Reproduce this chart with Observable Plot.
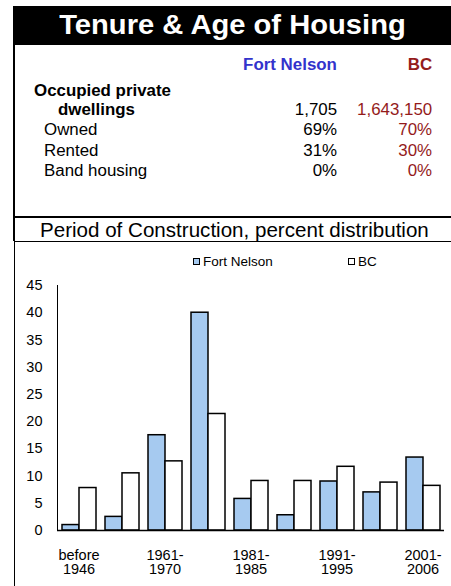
<!DOCTYPE html>
<html>
<head>
<meta charset="utf-8">
<script src="https://cdn.jsdelivr.net/npm/d3@7"></script>
<script src="https://cdn.jsdelivr.net/npm/@observablehq/plot@0.6"></script>
<style>
  body { margin: 0; background: white; }
  #root { position: relative; width: 451px; height: 586px; overflow: hidden; background: white;
          font-family: "Liberation Sans", Arial, sans-serif; color: black; }
  .abs { position: absolute; white-space: nowrap; }
  .l { transform: scaleX(1.055); transform-origin: left center; }
  .r { transform: scaleX(1.055); transform-origin: right center; }
  .c { transform: scaleX(1.06); transform-origin: center center; }
  .line { position: absolute; background: black; }
</style>
</head>
<body>
<div id="root"></div>
<script>
// ---- data ----
const titleText = "Tenure & Age of Housing";
const subtitleText = "Period of Construction, percent distribution";
const places = ["Fort Nelson", "BC"];
const rowLabels = ["Occupied private\ndwellings", "Owned", "Rented", "Band housing"];
const fortNelsonTable = ["1,705", "69%", "31%", "0%"];
const bcTable = ["1,643,150", "70%", "30%", "0%"];

const periods = ["before 1946", "1946-1960", "1961-1970", "1971-1980", "1981-1985",
                 "1986-1990", "1991-1995", "1996-2000", "2001-2006"];
const tickLabels = ["before\n1946", "", "1961-\n1970", "", "1981-\n1985", "", "1991-\n1995", "", "2001-\n2006"];
const fortNelson = [1.0, 2.5, 17.5, 40.0, 5.8, 2.8, 9.0, 7.0, 13.4];
const bc = [7.8, 10.5, 12.7, 21.4, 9.1, 9.1, 11.7, 8.8, 8.2];
const yTicks = [0, 5, 10, 15, 20, 25, 30, 35, 40, 45];

const blue = "#3333cc";
const red = "#941b1b";
const barBlue = "#a6caf0";

// ---- layout ----
const root = document.getElementById("root");
function add(html) { root.insertAdjacentHTML("beforeend", html); }

// chart
const data = [];
periods.forEach((p, i) => {
  data.push({period: p, series: places[0], value: fortNelson[i]});
  data.push({period: p, series: places[1], value: bc[i]});
});

const chart = Plot.plot({
  width: 451,
  height: 344,
  marginLeft: 55,
  marginRight: 6,
  marginTop: 43,
  marginBottom: 56,
  fx: {domain: periods, paddingInner: 0, paddingOuter: 0, axis: null, label: null},
  x: {domain: places, paddingInner: 0, paddingOuter: 0.24, axis: null, label: null},
  y: {domain: [0, 45], axis: null, label: null},
  color: {domain: places, range: [barBlue, "#ffffff"]},
  style: {fontFamily: "'Liberation Sans', Arial, sans-serif", fontSize: "14px", color: "black", background: "transparent"},
  marks: [
    Plot.barY(data, {fx: "period", x: "series", y: "value", fill: "series", stroke: "black", strokeWidth: 1.5}),
    Plot.ruleY([0], {stroke: "black", strokeWidth: 1.5}),
    Plot.frame({anchor: "left", facetAnchor: "left", stroke: "black", strokeWidth: 1}),
    Plot.axisY({ticks: yTicks, tickSize: 0, tickPadding: 15, fontSize: 14.5, label: null, fill: "black"}),
    Plot.axisFx({anchor: "bottom", tickSize: 0, tickPadding: 19, fontSize: 14.5, lineHeight: 1.0,
                 label: null, fill: "black",
                 tickFormat: d => tickLabels[periods.indexOf(d)]})
  ]
});
const chartWrap = document.createElement("div");
chartWrap.style.cssText = "position:absolute;left:0;top:242px;";
chartWrap.appendChild(chart);
root.appendChild(chartWrap);

// title band
add(`<div class="line" style="left:14px;top:6px;width:437px;height:39px;"></div>`);
add(`<div class="abs c" style="left:14px;top:11px;width:437px;text-align:center;color:white;font-weight:bold;font-size:27.5px;line-height:27.5px;">${titleText.replace("&","&amp;")}</div>`);

// table header
const fs = 16;
function topFor(baseline, size) { return baseline - 0.8465 * size; }
add(`<div class="abs r" style="right:${451-337}px;top:${topFor(71, fs)}px;font-size:${fs}px;line-height:${fs}px;font-weight:bold;color:${blue};">${places[0]}</div>`);
add(`<div class="abs r" style="right:${451-432.5}px;top:${topFor(71, fs)}px;font-size:${fs}px;line-height:${fs}px;font-weight:bold;color:${red};">${places[1]}</div>`);

// table rows
const rowBaselines = [115.5, 135.5, 156.5, 177];
const lbl0 = rowLabels[0].split("\n");
add(`<div class="abs l" style="left:34px;top:${topFor(96.7, fs)}px;font-size:${fs}px;line-height:${fs}px;font-weight:bold;">${lbl0[0]}</div>`);
add(`<div class="abs l" style="left:58px;top:${topFor(115.3, fs)}px;font-size:${fs}px;line-height:${fs}px;font-weight:bold;">${lbl0[1]}</div>`);
rowLabels.forEach((r, i) => {
  const b = rowBaselines[i];
  if (i > 0) add(`<div class="abs l" style="left:43.5px;top:${topFor(b, fs)}px;font-size:${fs}px;line-height:${fs}px;">${r}</div>`);
  add(`<div class="abs r" style="right:${451-337}px;top:${topFor(b, fs)}px;font-size:${fs}px;line-height:${fs}px;">${fortNelsonTable[i]}</div>`);
  add(`<div class="abs r" style="right:${451-432.5}px;top:${topFor(b, fs)}px;font-size:${fs}px;line-height:${fs}px;color:${red};">${bcTable[i]}</div>`);
});

// section lines and subtitle
add(`<div class="line" style="left:13px;top:6px;width:2px;height:235px;"></div>`);
add(`<div class="line" style="left:13.5px;top:241px;width:1.5px;height:345px;"></div>`);
add(`<div class="line" style="left:14px;top:216px;width:437px;height:2px;"></div>`);
add(`<div class="line" style="left:14px;top:240.5px;width:437px;height:1px;"></div>`);
add(`<div class="abs l" style="left:40px;top:${topFor(237.3, 19.5)}px;font-size:19.5px;line-height:19.5px;">${subtitleText}</div>`);

// legend
const legendX = [193, 348];
places.forEach((p, i) => {
  add(`<div class="abs" style="left:${legendX[i]}px;top:257.5px;width:5px;height:5px;border:1.5px solid black;background:${i === 0 ? barBlue : "white"};"></div>`);
  add(`<div class="abs" style="left:${legendX[i] + 10}px;top:${topFor(266, 13.5)}px;font-size:13.5px;line-height:13.5px;">${p}</div>`);
});
</script>
</body>
</html>
